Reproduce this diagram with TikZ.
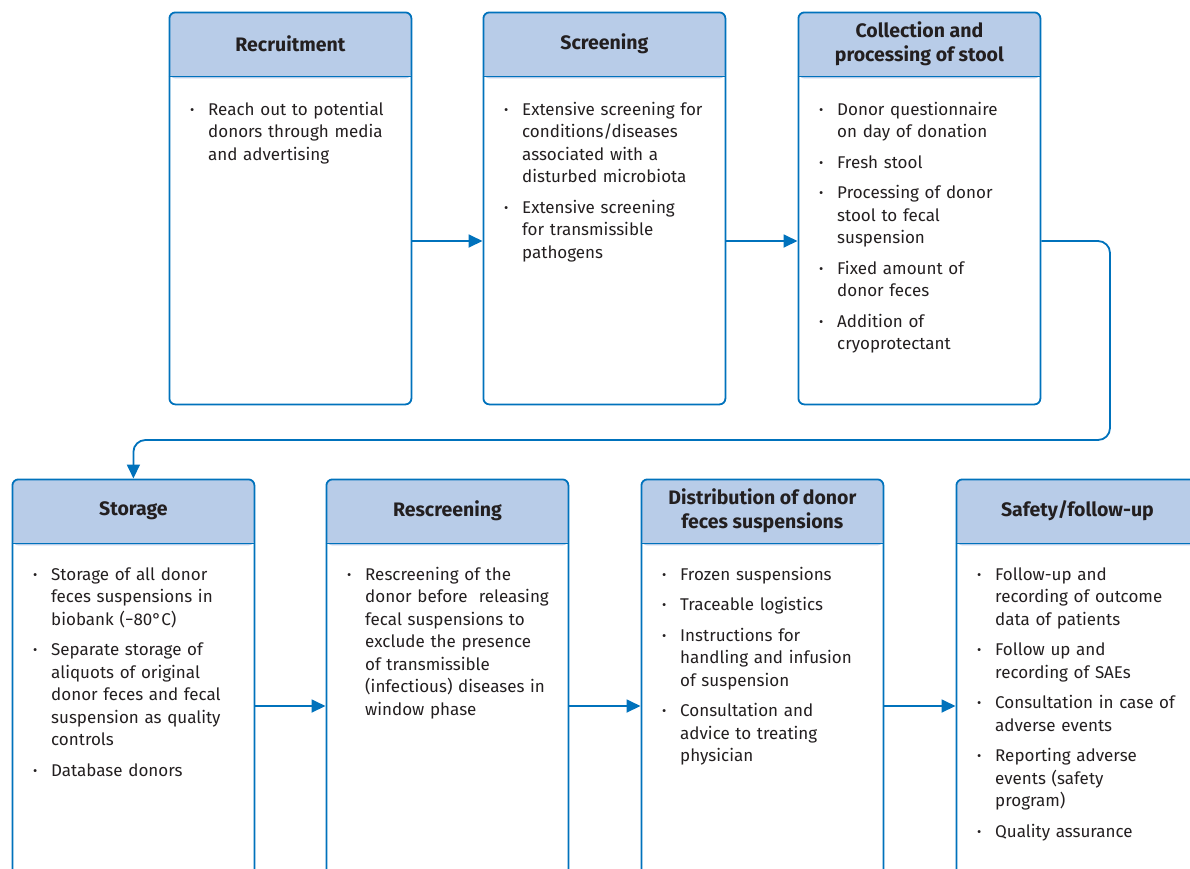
\documentclass[tikz,border=0pt]{standalone}
\usepackage{fontspec}
\setmainfont{Fira Sans}
\usetikzlibrary{arrows.meta}
\definecolor{fblue}{RGB}{0,114,188}
\definecolor{hfill}{RGB}{184,204,232}
\definecolor{txt}{RGB}{35,31,32}
\newcommand{\bitem}[1]{\noindent\makebox[18pt][l]{\raisebox{1pt}{\fontsize{13}{13}\selectfont\textbullet}}\parbox[t]{210pt}{\raggedright #1\rule[-5pt]{0pt}{5pt}}\par\prevdepth=5pt\vspace{8pt}}
\tikzset{
  box/.style={draw=fblue, line width=1.8pt, rounded corners=6pt, minimum width=242pt,
    minimum height=#1, anchor=north west, inner sep=0pt,
    path picture={\fill[hfill] (path picture bounding box.north west) rectangle ([yshift=-66pt]path picture bounding box.north east);}},
  sepline/.style={draw=fblue, line width=1.8pt},
  htext/.style={font=\fontsize{19.5}{24}\selectfont\bfseries, text=txt, align=center, inner sep=0pt},
  body/.style={font=\fontsize{17}{22.5}\selectfont, text=txt, text width=230pt, inner sep=0pt, anchor=base west},
  arr/.style={draw=fblue, line width=1.8pt, -{Triangle[length=14pt,width=13pt]}},
}
\begin{document}
\begin{tikzpicture}[x=1pt,y=-1pt]
\useasboundingbox (0,0) rectangle (1190,868);
% top row
\node[box=392pt] (r1) at (168.5,11.5) {};
\node[box=392pt] (r2) at (482.5,11.5) {};
\node[box=392pt] (r3) at (797.5,11.5) {};
% bottom row
\node[box=430pt] (s1) at (11.5,478.5) {};
\node[box=430pt] (s2) at (325.5,478.5) {};
\node[box=430pt] (s3) at (640.5,478.5) {};
\node[box=430pt] (s4) at (955.5,478.5) {};
\foreach \b in {r1,r2,r3,s1,s2,s3,s4}{
  \draw[sepline] ([yshift=-65pt]\b.north west) -- ([yshift=-65pt]\b.north east);
}
% headers
\node[htext] (h1) at ([yshift=-32pt]r1.north) {Recruitment};
\node[htext] (h2) at ([yshift=-32pt]r2.north) {Screening};
\node[htext] (h3) at ([yshift=-32pt]r3.north) {Collection and\\processing of stool};
\node[htext] (h4) at ([yshift=-32pt]s1.north) {Storage};
\node[htext] (h5) at ([yshift=-32pt]s2.north) {Rescreening};
\node[htext] (h6) at ([yshift=-32pt]s3.north) {Distribution of donor\\feces suspensions};
\node[htext] (h7) at ([yshift=-32pt]s4.north) {Safety/follow-up};
% bodies
\node[body] (t1) at ([xshift=21.5pt,yshift=-103.5pt]r1.north west) {%
\bitem{Reach out to potential\\donors through media\\and advertising}};
\node[body] (t2) at ([xshift=21.5pt,yshift=-103.5pt]r2.north west) {%
\bitem{Extensive screening for\\conditions/diseases\\associated with a\\disturbed microbiota}
\bitem{Extensive screening\\for transmissible\\pathogens}};
\node[body] (t3) at ([xshift=21.5pt,yshift=-103.5pt]r3.north west) {%
\bitem{Donor questionnaire\\on day of donation}
\bitem{Fresh stool}
\bitem{Processing of donor\\stool to fecal\\suspension}
\bitem{Fixed amount of\\donor feces}
\bitem{Addition of\\cryoprotectant}};
\node[body] (t4) at ([xshift=21.5pt,yshift=-101.5pt]s1.north west) {%
\bitem{Storage of all donor\\feces suspensions in\\biobank (−80°C)}
\bitem{Separate storage of\\aliquots of original\\donor feces and fecal\\suspension as quality\\controls}
\bitem{Database donors}};
\node[body] (t5) at ([xshift=21.5pt,yshift=-101.5pt]s2.north west) {%
\bitem{Rescreening of the\\donor before\ \ releasing\\fecal suspensions to\\exclude the presence\\of transmissible\\(infectious) diseases in\\window phase}};
\node[body] (t6) at ([xshift=21.5pt,yshift=-101.5pt]s3.north west) {%
\bitem{Frozen suspensions}
\bitem{Traceable logistics}
\bitem{Instructions for\\handling and infusion\\of suspension}
\bitem{Consultation and\\advice to treating\\physician}};
\node[body] (t7) at ([xshift=21.5pt,yshift=-101.5pt]s4.north west) {%
\bitem{Follow-up and\\recording of outcome\\data of patients}
\bitem{Follow up and\\recording of SAEs}
\bitem{Consultation in case of\\adverse events}
\bitem{Reporting adverse\\events (safety\\program)}
\bitem{Quality assurance}};
% connectors
\draw[arr] ([yshift=-229.5pt]r1.north east) -- ([yshift=-229.5pt]r2.north west);
\draw[arr] ([yshift=-229.5pt]r2.north east) -- ([yshift=-229.5pt]r3.north west);
\coordinate (loop) at (1110,440);
\draw[arr, rounded corners=12pt] ([yshift=-229.5pt]r3.north east) -| (loop) -| (s1.north);
\draw[arr] ([yshift=-227.5pt]s1.north east) -- ([yshift=-227.5pt]s2.north west);
\draw[arr] ([yshift=-227.5pt]s2.north east) -- ([yshift=-227.5pt]s3.north west);
\draw[arr] ([yshift=-227.5pt]s3.north east) -- ([yshift=-227.5pt]s4.north west);
\end{tikzpicture}
\end{document}
